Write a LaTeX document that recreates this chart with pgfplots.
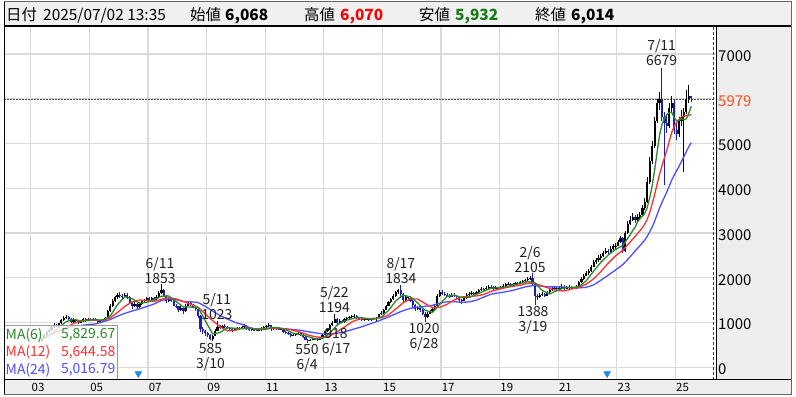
\documentclass[border=0pt]{standalone}
\usepackage{fontspec}
\setmainfont{Noto Sans CJK JP}
\usepackage{pgfplots}
\usepackage{pgfplotstable}
\pgfplotsset{compat=1.18}
\definecolor{hdr}{HTML}{F0F0F0}
\definecolor{panel}{HTML}{EEEEEE}
\definecolor{gridc}{HTML}{DADADA}
\definecolor{dn}{HTML}{1C1CB8}
\definecolor{maA}{HTML}{2A8A2A}
\definecolor{maB}{HTML}{FF3030}
\definecolor{maC}{HTML}{4F4FFF}
\definecolor{hired}{HTML}{FF0000}
\definecolor{logreen}{HTML}{1A7A1A}
\definecolor{curc}{HTML}{FF4A1A}
\definecolor{tri}{HTML}{1E88F0}
\definecolor{anno}{HTML}{202020}

\pgfplotstableread{
m o h l c
3 600 620 550 580
4 580 660 570 640
5 640 740 630 720
6 720 800 700 780
7 780 860 760 840
8 840 920 820 900
9 900 980 880 950
10 950 970 890 920
11 920 1000 900 980
12 980 1080 970 1050
13 1050 1140 1030 1100
14 1100 1160 1070 1120
15 1120 1140 1050 1080
16 1080 1100 990 1020
17 1020 1090 1000 1060
18 1060 1080 1010 1040
19 1040 1060 970 1000
20 1000 1050 980 1030
21 1030 1090 1010 1070
22 1070 1090 1020 1050
23 1050 1110 1030 1080
24 1080 1100 1040 1060
25 1060 1110 1040 1080
26 1080 1100 1030 1050
27 1050 1070 990 1020
28 1020 1060 1000 1040
29 1040 1080 1020 1060
30 1060 1130 1040 1100
31 1100 1280 1090 1250
32 1250 1410 1230 1380
33 1380 1520 1350 1480
34 1480 1600 1450 1560
35 1560 1660 1530 1620
36 1620 1680 1550 1600
37 1600 1640 1520 1580
38 1580 1660 1560 1620
39 1620 1650 1530 1560
40 1560 1590 1420 1450
41 1450 1480 1300 1380
42 1380 1460 1350 1420
43 1420 1440 1290 1350
44 1350 1450 1330 1420
45 1420 1510 1400 1480
46 1480 1530 1440 1500
47 1500 1570 1480 1540
48 1540 1560 1470 1500
49 1500 1580 1480 1540
50 1540 1570 1460 1520
51 1520 1610 1500 1580
52 1580 1700 1560 1660
53 1660 1853 1640 1720
54 1720 1740 1580 1600
55 1600 1620 1440 1480
56 1480 1560 1460 1520
57 1520 1550 1450 1480
58 1480 1500 1360 1380
59 1380 1420 1320 1360
60 1360 1380 1230 1280
61 1280 1360 1250 1320
62 1320 1340 1200 1250
63 1250 1410 1240 1380
64 1380 1480 1360 1440
65 1440 1460 1370 1400
66 1400 1420 1320 1350
67 1350 1380 1260 1300
68 1300 1320 1100 1150
69 1150 1170 780 850
70 850 900 740 800
71 800 840 700 760
72 760 790 680 720
73 720 740 610 640
74 640 730 585 700
75 700 850 690 820
76 820 1023 800 900
77 900 940 850 880
78 880 950 860 920
79 920 960 870 900
80 900 930 850 880
81 880 900 820 850
82 850 870 790 820
83 820 880 800 860
84 860 910 840 880
85 880 900 830 860
86 860 920 850 900
87 900 960 880 920
88 920 940 840 860
89 860 880 810 840
90 840 870 820 850
91 850 860 800 820
92 820 850 800 830
93 830 860 810 840
94 840 890 820 870
95 870 920 850 900
96 900 950 880 920
97 920 980 900 940
98 940 950 800 860
99 860 900 840 880
100 880 890 840 860
101 860 880 830 850
102 850 880 830 860
103 860 870 760 780
104 780 800 740 760
105 760 780 720 740
106 740 760 680 700
107 700 740 690 720
108 720 760 700 740
109 740 790 720 760
110 760 780 700 720
111 720 740 660 680
112 680 700 600 620
113 620 640 550 600
114 600 640 580 620
115 620 660 600 640
116 640 660 610 630
117 630 650 590 610
118 610 680 600 660
119 660 740 650 720
120 720 820 710 800
121 800 880 780 860
122 860 960 840 940
123 940 1040 920 1000
124 1000 1194 980 1080
125 1080 1100 918 1000
126 1000 1070 980 1040
127 1040 1060 990 1020
128 1020 1100 1000 1080
129 1080 1130 1050 1100
130 1100 1150 1080 1120
131 1120 1170 1100 1140
132 1140 1180 1110 1150
133 1150 1160 1070 1100
134 1100 1120 1050 1080
135 1080 1100 1030 1060
136 1060 1090 1040 1070
137 1070 1100 1050 1080
138 1080 1100 1040 1060
139 1060 1090 1030 1070
140 1070 1110 1050 1090
141 1090 1120 1040 1100
142 1100 1200 1090 1180
143 1180 1250 1160 1220
144 1220 1300 1200 1280
145 1280 1400 1270 1380
146 1380 1480 1360 1450
147 1450 1550 1430 1520
148 1520 1630 1500 1600
149 1600 1710 1580 1680
150 1680 1760 1640 1720
151 1720 1834 1580 1640
152 1640 1660 1460 1500
153 1500 1590 1480 1560
154 1560 1600 1510 1540
155 1540 1570 1450 1480
156 1480 1500 1320 1400
157 1400 1420 1250 1300
158 1300 1380 1280 1330
159 1330 1360 1240 1280
160 1280 1300 1170 1200
161 1200 1230 1020 1120
162 1120 1230 1100 1200
163 1200 1290 1180 1260
164 1260 1330 1230 1300
165 1300 1400 1280 1380
166 1380 1640 1370 1600
167 1600 1720 1580 1680
168 1680 1720 1610 1640
169 1640 1680 1590 1620
170 1620 1660 1570 1600
171 1600 1630 1540 1580
172 1580 1650 1560 1620
173 1620 1660 1570 1600
174 1600 1620 1530 1560
175 1560 1580 1460 1500
176 1500 1530 1420 1480
177 1480 1570 1470 1540
178 1540 1650 1520 1620
179 1620 1680 1600 1640
180 1640 1700 1620 1660
181 1660 1680 1600 1640
182 1640 1700 1620 1680
183 1680 1750 1660 1720
184 1720 1790 1700 1760
185 1760 1780 1710 1740
186 1740 1810 1720 1780
187 1780 1840 1760 1800
188 1800 1830 1760 1790
189 1790 1810 1730 1760
190 1760 1810 1740 1780
191 1780 1800 1720 1760
192 1760 1820 1740 1800
193 1800 1850 1780 1820
194 1820 1880 1800 1850
195 1850 1900 1830 1870
196 1870 1890 1810 1840
197 1840 1880 1820 1860
198 1860 1910 1840 1880
199 1880 1900 1830 1870
200 1870 1930 1850 1900
201 1900 1950 1880 1920
202 1920 1980 1900 1950
203 1950 2010 1930 1980
204 1980 2040 1950 2000
205 2000 2105 1820 1850
206 1850 1870 1388 1600
207 1600 1640 1500 1560
208 1560 1660 1540 1620
209 1620 1680 1590 1640
210 1640 1670 1570 1600
211 1600 1700 1590 1680
212 1680 1760 1660 1720
213 1720 1790 1700 1760
214 1760 1820 1740 1780
215 1780 1810 1730 1760
216 1760 1820 1740 1780
217 1780 1850 1760 1800
218 1800 1830 1730 1760
219 1760 1820 1740 1780
220 1780 1830 1760 1790
221 1790 1820 1750 1780
222 1780 1800 1740 1770
223 1770 1830 1760 1800
224 1800 1930 1790 1900
225 1900 2010 1880 1980
226 1980 2090 1960 2050
227 2050 2140 2030 2100
228 2100 2190 2060 2150
229 2150 2290 2130 2250
230 2250 2400 2230 2350
231 2350 2440 2300 2400
232 2400 2500 2360 2450
233 2450 2540 2400 2480
234 2480 2600 2460 2550
235 2550 2660 2520 2600
236 2600 2650 2530 2580
237 2580 2700 2560 2650
238 2650 2760 2620 2700
239 2700 2780 2640 2720
240 2720 2850 2700 2800
241 2800 2940 2770 2880
242 2880 2900 2550 2600
243 2600 3050 2580 3000
244 3000 3260 2980 3200
245 3200 3380 3170 3300
246 3300 3440 3260 3350
247 3350 3400 3220 3300
248 3300 3420 3260 3350
249 3350 3470 3300 3400
250 3400 3620 3380 3550
251 3550 3780 3520 3700
252 3700 4250 3680 4150
253 4150 4700 4100 4600
254 4600 5050 4550 4950
255 4950 5600 4900 5500
256 5500 6000 5450 5900
257 5900 6150 5750 6000
258 6000 6679 5500 5600
259 5600 5700 4070 5450
260 5450 5650 5230 5400
261 5400 5900 5350 5800
262 5800 6050 5700 5900
263 5900 5980 5200 5300
264 5300 5450 5080 5200
265 5200 5600 5150 5500
266 5500 5750 5400 5600
267 5600 5800 4360 5700
268 5700 6200 5650 6000
269 6000 6310 5900 6068
270 6068 6070 5932 6014
}\candles

\pgfplotstableread{
m v
5 647
8 743
11 895
14 1020
17 1072
20 1038
23 1045
26 1065
29 1052
32 1142
35 1398
38 1577
41 1532
44 1430
47 1452
50 1513
53 1587
56 1593
59 1470
62 1345
65 1345
68 1337
71 1035
74 745
77 777
80 883
83 872
86 862
89 877
92 853
95 852
98 888
101 885
104 832
107 760
110 730
113 687
116 632
119 647
122 765
125 947
128 1037
131 1083
134 1115
137 1090
140 1072
143 1120
146 1268
149 1485
152 1610
155 1573
158 1435
161 1272
164 1227
167 1403
170 1587
173 1610
176 1557
179 1557
182 1630
185 1700
188 1765
191 1778
194 1795
197 1840
200 1870
203 1917
206 1883
209 1712
212 1637
215 1717
218 1773
221 1782
224 1803
227 1933
230 2147
233 2347
236 2510
239 2633
242 2725
245 2963
246 3055
247 3125
248 3250
249 3317
250 3375
251 3442
252 3575
253 3792
254 4058
255 4408
256 4800
257 5183
258 5425
259 5567
260 5642
261 5692
262 5692
263 5575
264 5508
265 5517
266 5550
267 5533
268 5550
269 5678
270 5830
}\maSix

\pgfplotstableread{
m v
5 647
8 743
11 812
14 882
17 983
20 1029
23 1058
26 1052
29 1048
32 1103
35 1225
38 1359
41 1465
44 1503
47 1492
50 1472
53 1519
56 1553
59 1528
62 1469
65 1408
68 1341
71 1190
74 1041
77 906
80 814
83 824
86 873
89 874
92 858
95 864
98 871
101 868
104 860
107 823
110 781
113 723
116 681
119 667
122 698
125 797
128 901
131 1015
134 1076
137 1087
140 1093
143 1105
146 1170
149 1303
152 1439
155 1529
158 1523
161 1423
164 1331
167 1338
170 1407
173 1507
176 1572
179 1583
182 1593
185 1628
188 1698
191 1739
194 1780
197 1809
200 1833
203 1878
206 1877
209 1814
212 1760
215 1714
218 1705
221 1749
224 1788
227 1858
230 1975
233 2140
236 2328
239 2490
242 2618
245 2798
246 2865
247 2923
248 2988
249 3050
250 3121
251 3203
252 3315
253 3458
254 3654
255 3863
256 4088
257 4313
258 4500
259 4679
260 4850
261 5050
262 5246
263 5379
264 5467
265 5542
266 5596
267 5613
268 5621
269 5627
270 5645
}\maTwelve

\pgfplotstableread{
m v
5 647
8 743
11 812
14 882
17 916
20 934
23 953
26 967
29 1016
32 1066
35 1142
38 1205
41 1257
44 1303
47 1358
50 1415
53 1492
56 1528
59 1510
62 1470
65 1463
68 1447
71 1359
74 1255
77 1157
80 1078
83 1007
86 957
89 890
92 836
95 844
98 872
101 871
104 859
107 843
110 826
113 796
116 770
119 745
122 740
125 760
128 791
131 841
134 887
137 942
140 997
143 1060
146 1123
149 1195
152 1266
155 1317
158 1346
161 1363
164 1385
167 1433
170 1465
173 1465
176 1451
179 1460
182 1500
185 1568
188 1635
191 1661
194 1687
197 1719
200 1765
203 1809
206 1828
209 1812
212 1796
215 1796
218 1791
221 1782
224 1774
227 1786
230 1840
233 1945
236 2058
239 2174
242 2296
245 2469
246 2535
247 2598
248 2658
249 2717
250 2780
251 2846
252 2930
253 3028
254 3136
255 3265
256 3409
257 3555
258 3683
259 3801
260 3919
261 4050
262 4183
263 4291
264 4391
265 4490
266 4600
267 4710
268 4820
269 4930
270 5017
}\maTwentyFour

\begin{document}
\begin{tikzpicture}[x=1bp,y=1bp]
\fill[white] (0,0) rectangle (796,396);
\fill[hdr] (4,371) rectangle (791.5,396);
\fill[panel] (716,17) rectangle (791.5,371);
\fill[panel] (4,2) rectangle (791.5,17);

\begin{axis}[
  at={(4bp,17bp)}, anchor=south west,
  scale only axis, width=712bp, height=353bp,
  xmin=2002.085, xmax=2026.386, ymin=-275, ymax=7610,
  axis line style={draw=none},
  grid=major, major grid style={draw=gridc, line width=1.2bp},
  xtick={2003,2005,...,2025},
  xticklabels={03,05,07,09,11,13,15,17,19,21,23,25},
  ytick={0,1000,2000,3000,4000,5000,6000,7000},
  yticklabels={0,1000,2000,3000,4000,5000,,7000},
  yticklabel pos=right,
  major tick length=0pt, tick style={draw=none},
  xticklabel style={font=\fontsize{11.5}{12}\selectfont, anchor=center, inner sep=0pt, xshift=7.2bp, yshift=-7.5bp},
  yticklabel style={font=\fontsize{15}{15}\selectfont, anchor=west, inner sep=0pt, xshift=2bp, yshift=-2bp, text=black},
  candle/.style={draw=none, mark=none},
]
% reference line of the last price
\addplot[draw=black!70, line width=0.8bp, dash pattern=on 1.5bp off 1.5bp] coordinates {(2002.085,5979) (2026.30,5979)};
\draw[black!75, line width=0.8bp, dash pattern=on 3bp off 2bp] (axis cs:2026.30,-275) -- (axis cs:2026.30,7610);

% up candles: wicks and bodies
\addplot[candle, restrict expr to domain={\thisrow{c}-\thisrow{o}}{0:100000},
  error bars/.cd, y dir=minus, y explicit, error mark=none,
  error bar style={draw=black, line width=1bp}]
  table[x expr={2003+(\thisrow{m}+0.5)/12}, y=h, y error expr={\thisrow{h}-\thisrow{l}}] {\candles};
\addplot[candle, restrict expr to domain={\thisrow{c}-\thisrow{o}}{0:100000},
  error bars/.cd, y dir=minus, y explicit, error mark=none,
  error bar style={draw=black, line width=2.2bp}]
  table[x expr={2003+(\thisrow{m}+0.5)/12}, y=c, y error expr={\thisrow{c}-\thisrow{o}}] {\candles};
% down candles
\addplot[candle, restrict expr to domain={\thisrow{c}-\thisrow{o}}{-100000:-0.5},
  error bars/.cd, y dir=minus, y explicit, error mark=none,
  error bar style={draw=dn, line width=1bp}]
  table[x expr={2003+(\thisrow{m}+0.5)/12}, y=h, y error expr={\thisrow{h}-\thisrow{l}}] {\candles};
\addplot[candle, restrict expr to domain={\thisrow{c}-\thisrow{o}}{-100000:-0.5},
  error bars/.cd, y dir=minus, y explicit, error mark=none,
  error bar style={draw=dn, line width=2.2bp}]
  table[x expr={2003+(\thisrow{m}+0.5)/12}, y=o, y error expr={\thisrow{o}-\thisrow{c}}] {\candles};

% moving averages
\addplot[maC, line width=1.3bp] table[x expr={2003+(\thisrow{m}+0.5)/12}, y=v] {\maTwentyFour};
\addplot[maB, line width=1.3bp] table[x expr={2003+(\thisrow{m}+0.5)/12}, y=v] {\maTwelve};
\addplot[maA, line width=1.3bp] table[x expr={2003+(\thisrow{m}+0.5)/12}, y=v] {\maSix};

% event markers
\addplot[only marks, mark=triangle*, mark size=4bp, mark options={rotate=180, fill=tri, draw=tri}] coordinates {(2006.67,-140) (2022.67,-140)};

% annotations of highs and lows
\begin{scope}[every node/.style={align=center, inner sep=0pt, text=anno, font=\fontsize{14}{15}\selectfont}]
\node at (axis cs:2007.41,2171) {6/11\\1853};
\node at (axis cs:2009.35,1356) {5/11\\1023};
\node at (axis cs:2009.13,217) {585\\3/10};
\node at (axis cs:2012.43,205) {550\\6/4};
\node at (axis cs:2013.42,552) {918\\6/17};
\node at (axis cs:2013.36,1523) {5/22\\1194};
\node at (axis cs:2015.63,2171) {8/17\\1834};
\node at (axis cs:2016.42,675) {1020\\6/28};
\node at (axis cs:2020.04,2417) {2/6\\2105};
\node at (axis cs:2020.14,1054) {1388\\3/19};
\node at (axis cs:2024.53,7040) {7/11\\6679};
\end{scope}
\coordinate (cur) at (axis cs:2026.386,5979);
\end{axis}

\node[anchor=west, inner sep=0pt, xshift=2bp, yshift=-2bp, text=curc, font=\fontsize{15}{15}\selectfont] at (cur) {5979};

% legend box
\fill[white, fill opacity=0.8] (4,17) rectangle (117,71);
\draw[black!40, line width=0.8bp] (4,17) rectangle (117,71);
\begin{scope}[every node/.style={inner sep=0pt, font=\fontsize{14}{14}\selectfont}]
\node[anchor=west, text=maA] at (5.5,61.5) {MA(6)};
\node[anchor=east, text=maA] at (115.5,61.5) {5,829.67};
\node[anchor=west, text=maB] at (5.5,44) {MA(12)};
\node[anchor=east, text=maB] at (115.5,44) {5,644.58};
\node[anchor=west, text=maC] at (5.5,26.5) {MA(24)};
\node[anchor=east, text=maC] at (115.5,26.5) {5,016.79};
\end{scope}

% frame
\draw[black, line width=1bp] (4,17) -- (791.5,17);
\draw[black, line width=1bp] (716,17) -- (716,371);
\draw[black, line width=2bp] (4,371) -- (791.5,371);
\draw[black, line width=1.2bp] (4.5,2) -- (4.5,396);
\draw[black!60, line width=1bp] (791.5,2) -- (791.5,396);
\draw[black!60, line width=1bp] (4,2) -- (791.5,2);
\draw[black!60, line width=1bp] (4,395.5) -- (791.5,395.5);

% header
\begin{scope}[every node/.style={anchor=base west, inner sep=0pt, font=\fontsize{15.5}{16}\selectfont}]
\node at (6,376) {日付};
\node at (43,376) {2025/07/02 13:35};
\node at (190,376) {始値};
\node at (225,376) {\bfseries 6,068};
\node at (304,376) {高値};
\node[text=hired] at (340,376) {\bfseries 6,070};
\node at (419,376) {安値};
\node[text=logreen] at (455,376) {\bfseries 5,932};
\node at (535,376) {終値};
\node at (571,376) {\bfseries 6,014};
\end{scope}
\end{tikzpicture}
\end{document}
